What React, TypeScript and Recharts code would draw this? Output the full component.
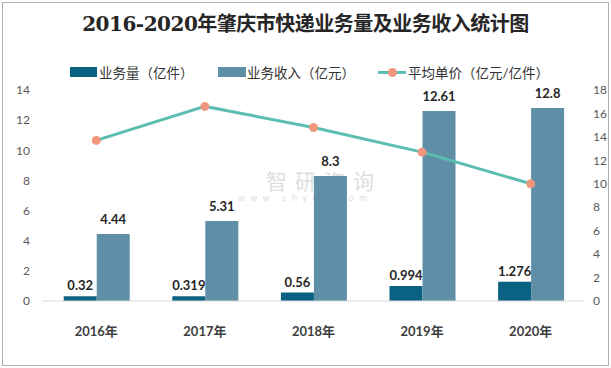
import React from 'react';
import { ComposedChart, Bar, Line, XAxis, YAxis, LabelList } from 'recharts';

const years = ['2016年', '2017年', '2018年', '2019年', '2020年'];
const volume = [0.32, 0.319, 0.56, 0.994, 1.276];
const revenue = [4.44, 5.31, 8.3, 12.61, 12.8];
const unitPrice = [13.7, 16.6, 14.8, 12.7, 10.0];
const leftTicks = [0, 2, 4, 6, 8, 10, 12, 14];
const rightTicks = [0, 2, 4, 6, 8, 10, 12, 14, 16, 18];

const title = '2016-2020年肇庆市快递业务量及业务收入统计图';
const seriesNames = ['业务量（亿件）', '业务收入（亿元）', '平均单价（亿元/亿件）'];
const watermark = ['智研咨询', 'www.chyxx.com'];

const data = years.map((y, i) => ({ year: y, volume: volume[i], revenue: revenue[i], price: unitPrice[i] }));

const C_VOL = '#0a6282';
const C_REV = '#5e8fa7';
const C_LINE = '#5cbdb3';
const C_DOT = '#ef977d';
const FONT = "Lato, 'Noto Sans CJK SC', sans-serif";

export default function App() {
  return (
    <div style={{ position: 'absolute', left: 0, top: 0, width: 611, height: 368, background: '#fff', fontFamily: FONT }}>
      <div style={{ position: 'absolute', left: 2, top: 2, width: 605, height: 362, border: '1px solid #b0b0b0' }} />
      <div style={{ position: 'absolute', left: 0, top: 8, width: 611, textAlign: 'center', fontSize: 20, fontWeight: 'bold', color: '#262626', fontFamily: "'DejaVu Serif', 'Noto Sans CJK SC', serif", letterSpacing: -0.5 }}>
        {title}
      </div>
      <div style={{ position: 'absolute', left: 0, top: 63, width: 611, height: 18, fontSize: 13.5, color: '#333' }}>
        <div style={{ position: 'absolute', left: 70, top: 4, width: 27, height: 10, background: C_VOL }} />
        <div style={{ position: 'absolute', left: 99, top: -1 }}>{seriesNames[0]}</div>
        <div style={{ position: 'absolute', left: 218, top: 4, width: 28, height: 10, background: C_REV }} />
        <div style={{ position: 'absolute', left: 247, top: -1 }}>{seriesNames[1]}</div>
        <div style={{ position: 'absolute', left: 378, top: 8, width: 28, height: 3, background: C_LINE }} />
        <div style={{ position: 'absolute', left: 388, top: 5, width: 9, height: 9, borderRadius: 5, background: C_DOT }} />
        <div style={{ position: 'absolute', left: 408, top: -1 }}>{seriesNames[2]}</div>
      </div>
      <div style={{ position: 'absolute', left: 266, top: 170, fontSize: 21, lineHeight: 1, color: '#000', opacity: 0.13, letterSpacing: 8 }}>{watermark[0]}</div>
      <div style={{ position: 'absolute', left: 238, top: 193, fontSize: 9, lineHeight: 1, color: '#000', opacity: 0.15, letterSpacing: 5.3 }}>{watermark[1]}</div>
      <div style={{ position: 'absolute', left: 0, top: 0 }}>
        <ComposedChart
          width={611}
          height={368}
          data={data}
          margin={{ top: 90, right: 0, bottom: 37, left: 0 }}
          barGap={0}
          barCategoryGap="20%"
        >
          <XAxis
            dataKey="year"
            axisLine={{ stroke: '#d9d9d9' }}
            tickLine={false}
            height={30}
            tickMargin={20}
            tick={{ fontSize: 13, fontWeight: 'bold', fill: '#404040', fontFamily: FONT }}
          />
          <YAxis
            yAxisId="left"
            width={42}
            domain={[0, 14]}
            ticks={leftTicks}
            axisLine={false}
            tickLine={false}
            tickMargin={6}
            tick={{ fontSize: 12, fill: '#595959', fontFamily: FONT }}
          />
          <YAxis
            yAxisId="right"
            orientation="right"
            width={26}
            domain={[0, 18]}
            ticks={rightTicks}
            axisLine={false}
            tickLine={false}
            tickMargin={2}
            tick={{ fontSize: 12, fill: '#595959', fontFamily: FONT }}
          />
          <Bar yAxisId="left" dataKey="volume" fill={C_VOL} isAnimationActive={false}>
            <LabelList dataKey="volume" position="top" offset={6} style={{ fontSize: 13, fontWeight: 'bold', fill: '#262626', fontFamily: FONT }} />
          </Bar>
          <Bar yAxisId="left" dataKey="revenue" fill={C_REV} isAnimationActive={false}>
            <LabelList dataKey="revenue" position="top" offset={10} style={{ fontSize: 13, fontWeight: 'bold', fill: '#262626', fontFamily: FONT }} />
          </Bar>
          <Line
            yAxisId="right"
            dataKey="price"
            type="linear"
            stroke={C_LINE}
            strokeWidth={3}
            dot={{ r: 4.5, fill: C_DOT, stroke: 'none' }}
            isAnimationActive={false}
          />
        </ComposedChart>
      </div>
    </div>
  );
}
